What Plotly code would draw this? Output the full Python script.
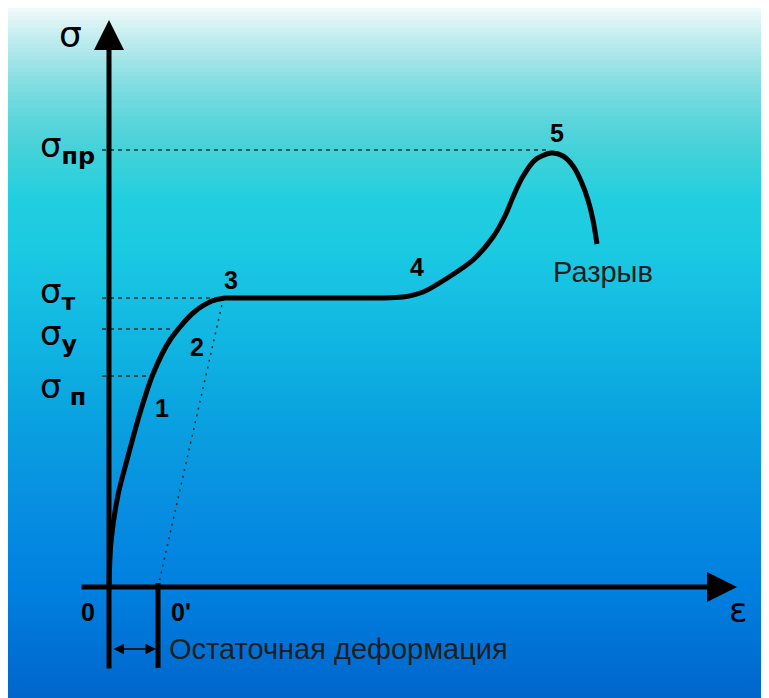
import plotly.graph_objects as go

# диаграмма растяжения: деформация ε (x) и напряжение σ (y), условные единицы
EPS = [0.0, 0.2, 0.9, 1.8, 3.1, 4.4, 6.1, 8.4, 10.3, 11.6, 12.4,
       17.0, 21.0, 25.0, 27.1, 29.4, 31.4, 34.0, 36.4, 38.4, 39.6, 40.4, 41.3, 42.6, 44.2,
       45.4, 46.4, 47.2, 47.9, 48.4, 48.8]
SIG = [0.0, 4.5, 9.2, 12.7, 17.4, 21.3, 24.7, 27.4, 28.6, 28.9, 28.9,
       28.9, 28.9, 28.9, 28.9, 29.0, 29.5, 31.0, 32.7, 35.0, 37.1, 39.0, 40.9, 42.7, 43.4,
       43.1, 42.1, 40.6, 38.7, 36.7, 34.3]

# характерные напряжения и где пунктир доходит до кривой
LEVEL_NAMES = ["пр", "т", "у", " п"]
LEVEL_SIG = [43.7, 28.9, 25.8, 21.1]
LEVEL_EPS = [44.0, 11.1, 6.1, 4.1]

# номера участков
POINT_LABELS = ["1", "2", "3", "4", "5"]
POINT_EPS = [5.3, 8.8, 12.2, 30.8, 44.8]
POINT_SIG = [17.9, 24.0, 30.7, 32.0, 45.4]

EPS_RES = 4.9           # остаточная деформация 0'
UNLOAD = (11.4, 28.7)   # точка начала разгрузки
EPS_AXIS = (-2.9, 62.8)
SIG_AXIS = (-8.3, 56.7)

# страница даёт отступ 8px, поэтому фигура чуть меньше окна
W, H = 761, 690
OFF = 8

fig = go.Figure()

# фон-градиент (y в пикселях окна)
stops = [(0, (250, 253, 253)), (10, (238, 249, 250)), (40, (192, 236, 238)),
         (80, (136, 223, 226)), (120, (92, 214, 220)), (150, (68, 210, 216)),
         (200, (34, 207, 224)), (260, (26, 200, 226)), (330, (18, 184, 226)),
         (420, (10, 162, 224)), (500, (8, 144, 224)), (590, (0, 128, 224)),
         (698, (0, 102, 204))]
shapes = []
step = 4
for y0 in range(0, H, step):
    yc = y0 + OFF + step / 2
    c = stops[-1][1]
    for (a, ca), (b, cb) in zip(stops[:-1], stops[1:]):
        if a <= yc <= b:
            t = (yc - a) / (b - a)
            c = tuple(int(ca[k] + (cb[k] - ca[k]) * t) for k in range(3))
            break
    shapes.append(dict(type="rect", xref="paper", yref="paper", layer="below",
                       x0=0, x1=1, y0=max(0, 1 - (y0 + step) / H), y1=1 - y0 / H,
                       fillcolor="rgb(%d,%d,%d)" % c, line_width=0))

# пунктирные уровни
for s, e in zip(LEVEL_SIG, LEVEL_EPS):
    fig.add_trace(go.Scatter(x=[-0.7, e], y=[s, s], mode="lines",
                             line=dict(color="#2a2a2a", width=1.5, dash="4px,4px"),
                             hoverinfo="skip", showlegend=False))

# линия разгрузки
fig.add_trace(go.Scatter(x=[EPS_RES, UNLOAD[0]], y=[0, UNLOAD[1]], mode="lines",
                         line=dict(color="#2a2a2a", width=1.5, dash="2px,5px"),
                         hoverinfo="skip", showlegend=False))

# кривая
fig.add_trace(go.Scatter(x=EPS, y=SIG, mode="lines",
                         line=dict(color="black", width=5, shape="spline", smoothing=0.8),
                         hoverinfo="skip", showlegend=False))

# вертикаль 0'
fig.add_trace(go.Scatter(x=[EPS_RES, EPS_RES], y=[0.4, -8.1], mode="lines",
                         line=dict(color="black", width=5),
                         hoverinfo="skip", showlegend=False))

ann = []
# оси со стрелками
ann.append(dict(x=EPS_AXIS[1], y=0, ax=EPS_AXIS[0], ay=0, xref="x", yref="y",
                axref="x", ayref="y", text="", showarrow=True, arrowhead=2,
                arrowsize=1.2, arrowwidth=5, arrowcolor="black", standoff=0))
ann.append(dict(x=0, y=SIG_AXIS[1], ax=0, ay=SIG_AXIS[0], xref="x", yref="y",
                axref="x", ayref="y", text="", showarrow=True, arrowhead=2,
                arrowsize=1.2, arrowwidth=5, arrowcolor="black", standoff=0))
# двойная стрелка остаточной деформации
ann.append(dict(x=EPS_RES - 0.2, y=-6.2, ax=0.3, ay=-6.2, xref="x", yref="y",
                axref="x", ayref="y", text="", showarrow=True, arrowhead=2,
                arrowside="end+start", startarrowhead=2, arrowsize=1.4,
                startarrowsize=1.4, arrowwidth=1.5, arrowcolor="black", standoff=0,
                startstandoff=0))

label_y = [44.0, 29.4, 25.2, 19.9]
for name, ly in zip(LEVEL_NAMES, label_y):
    ann.append(dict(x=-7.1, y=ly, xref="x", yref="y", xanchor="left", yanchor="middle",
                    text="σ<sub><b>%s</b></sub>" % name, showarrow=False,
                    font=dict(family="DejaVu Sans", size=34, color="black")))

for t, x, y in zip(POINT_LABELS, POINT_EPS, POINT_SIG):
    ann.append(dict(x=x, y=y, xref="x", yref="y", text="<b>%s</b>" % t, showarrow=False,
                    font=dict(family="Liberation Sans", size=25, color="black")))

ann.append(dict(x=-3.9, y=55.3, xref="x", yref="y", text="σ", showarrow=False,
                font=dict(family="DejaVu Sans", size=36, color="black")))
ann.append(dict(x=62.9, y=-2.3, xref="x", yref="y", text="ε", showarrow=False,
                font=dict(family="DejaVu Sans", size=34, color="black")))
ann.append(dict(x=-2.1, y=-2.5, xref="x", yref="y", text="<b>0</b>", showarrow=False,
                font=dict(family="Liberation Sans", size=25, color="black")))
ann.append(dict(x=7.2, y=-2.5, xref="x", yref="y", text="<b>0'</b>", showarrow=False,
                font=dict(family="Liberation Sans", size=25, color="black")))
ann.append(dict(x=5.8, y=-6.2, xref="x", yref="y", xanchor="left", yanchor="middle",
                text="Остаточная деформация", showarrow=False,
                font=dict(family="Liberation Sans", size=29, color="#1e1e1e")))
ann.append(dict(x=49.4, y=31.5, xref="x", yref="y", text="Разрыв", showarrow=False,
                font=dict(family="Liberation Sans", size=29, color="#1e1e1e")))

# ε=0 в пикселе 109 окна, σ=0 в пикселе 587 окна, 10px на единицу
x0 = -(109 - OFF) / 10
y1 = (587 - OFF) / 10
fig.update_layout(
    width=W, height=H, margin=dict(l=0, r=0, t=0, b=0),
    paper_bgcolor="white", plot_bgcolor="rgba(0,0,0,0)",
    xaxis=dict(range=[x0, x0 + W / 10], visible=False, fixedrange=True),
    yaxis=dict(range=[y1 - H / 10, y1], visible=False, fixedrange=True),
    shapes=shapes, annotations=ann, showlegend=False,
)

fig.write_html("out.html")
